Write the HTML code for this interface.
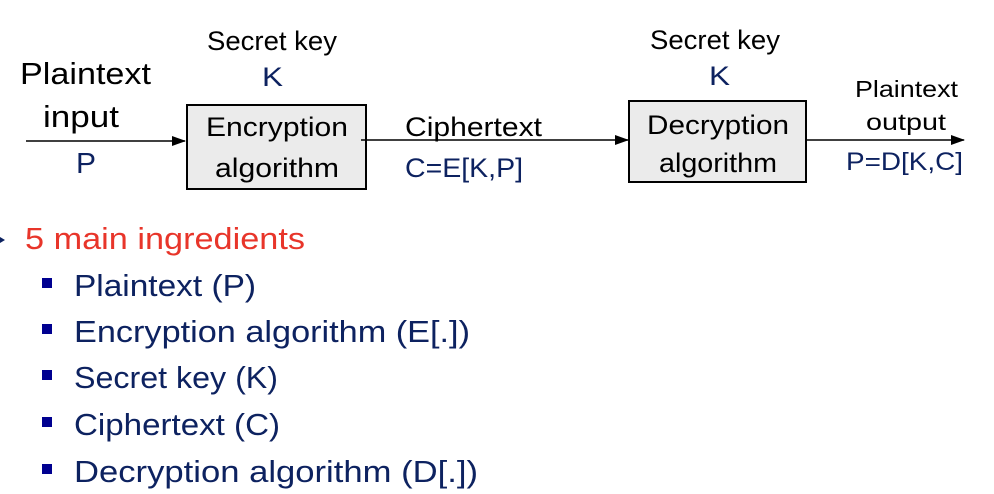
<!DOCTYPE html>
<html><head><style>html,body{margin:0;padding:0;background:#fff;width:994px;height:494px;overflow:hidden}</style></head>
<body>
<svg width="994" height="494" viewBox="0 0 994 494" xmlns="http://www.w3.org/2000/svg" font-family="'Liberation Sans', sans-serif">
<defs><marker id="a" markerWidth="14" markerHeight="10" refX="13" refY="5" orient="auto" markerUnits="userSpaceOnUse"><path d="M0,0 L14,5 L0,10 z" fill="#000"/></marker></defs>
<g fill="#000" font-size="27">
<text x="207" y="50" textLength="130" lengthAdjust="spacingAndGlyphs">Secret key</text>
<text x="650" y="49" textLength="130" lengthAdjust="spacingAndGlyphs">Secret key</text>
<text x="20" y="84" font-size="31" textLength="131" lengthAdjust="spacingAndGlyphs">Plaintext</text>
<text x="43" y="127" font-size="31" textLength="76" lengthAdjust="spacingAndGlyphs">input</text>
<text x="405" y="136" textLength="137" lengthAdjust="spacingAndGlyphs">Ciphertext</text>
<text x="855" y="97" font-size="23" textLength="103" lengthAdjust="spacingAndGlyphs">Plaintext</text>
<text x="866" y="130" font-size="23" textLength="80" lengthAdjust="spacingAndGlyphs">output</text>
</g>
<g fill="#0d2260" font-size="27">
<text x="262" y="86" textLength="21" lengthAdjust="spacingAndGlyphs">K</text>
<text x="709" y="85" textLength="21" lengthAdjust="spacingAndGlyphs">K</text>
<text x="76" y="173" font-size="29" textLength="20" lengthAdjust="spacingAndGlyphs">P</text>
<text x="405" y="177" textLength="118" lengthAdjust="spacingAndGlyphs">C=E[K,P]</text>
<text x="846" y="170" font-size="25" textLength="117" lengthAdjust="spacingAndGlyphs">P=D[K,C]</text>
</g>
<rect x="187" y="105" width="179" height="84" fill="#ebebeb" stroke="#000" stroke-width="2"/>
<rect x="629" y="101" width="177" height="81" fill="#ebebeb" stroke="#000" stroke-width="2"/>
<g fill="#000" font-size="27">
<text x="206" y="136" textLength="142" lengthAdjust="spacingAndGlyphs">Encryption</text>
<text x="215" y="177" textLength="124" lengthAdjust="spacingAndGlyphs">algorithm</text>
<text x="647" y="134" textLength="142" lengthAdjust="spacingAndGlyphs">Decryption</text>
<text x="659" y="172" textLength="118" lengthAdjust="spacingAndGlyphs">algorithm</text>
</g>
<g stroke="#000" stroke-width="1.5" fill="none">
<line x1="26" y1="141" x2="185" y2="141" marker-end="url(#a)"/>
<line x1="361" y1="140" x2="628" y2="140" marker-end="url(#a)"/>
<line x1="806" y1="140" x2="964" y2="140" marker-end="url(#a)"/>
</g>
<path d="M0,237 L5,240 L0,243 z" fill="#0d2260"/>
<text x="25" y="249" font-size="31" fill="#e8352a" textLength="280" lengthAdjust="spacingAndGlyphs">5 main ingredients</text>
<g fill="#000090">
<rect x="42" y="278" width="10" height="10"/>
<rect x="42" y="324" width="10" height="10"/>
<rect x="42" y="370" width="10" height="10"/>
<rect x="42" y="417" width="10" height="10"/>
<rect x="42" y="464" width="10" height="10"/>
</g>
<g fill="#0d2260" font-size="31">
<text x="74" y="296" textLength="182" lengthAdjust="spacingAndGlyphs">Plaintext (P)</text>
<text x="74" y="342" textLength="396" lengthAdjust="spacingAndGlyphs">Encryption algorithm (E[.])</text>
<text x="74" y="388" textLength="204" lengthAdjust="spacingAndGlyphs">Secret key (K)</text>
<text x="74" y="435" textLength="206" lengthAdjust="spacingAndGlyphs">Ciphertext (C)</text>
<text x="74" y="482" textLength="404" lengthAdjust="spacingAndGlyphs">Decryption algorithm (D[.])</text>
</g>
</svg>
</body></html>
